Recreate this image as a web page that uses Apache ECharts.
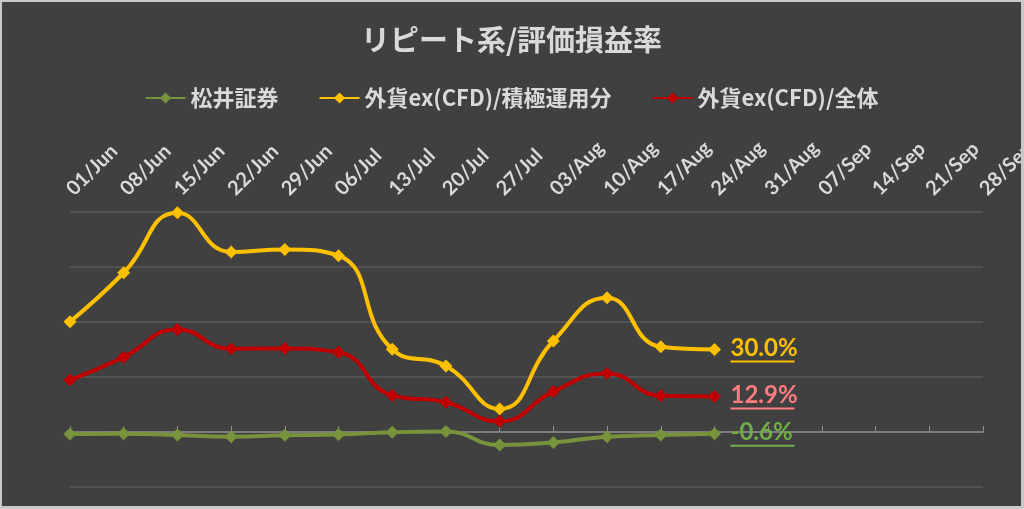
<!DOCTYPE html>
<html>
<head>
<meta charset="utf-8">
<script src="https://cdn.jsdelivr.net/npm/echarts@6/dist/echarts.min.js"></script>
<style>
  html, body { margin: 0; padding: 0; background: #C8C8C8; width: 1024px; height: 509px; overflow: hidden; }
  #chart { position: absolute; left: 2px; top: 2px; width: 1019px; height: 504px; background: #404040; }
</style>
</head>
<body>
<div id="chart"></div>
<script>
const categories = ['01/Jun','08/Jun','15/Jun','22/Jun','29/Jun','06/Jul','13/Jul','20/Jul','27/Jul','03/Aug','10/Aug','17/Aug','24/Aug','31/Aug','07/Sep','14/Sep','21/Sep','28/Sep'];
const seriesNames = ['松井証券', '外貨ex(CFD)/積極運用分', '外貨ex(CFD)/全体'];
const matsui = [-0.7, -0.6, -1.1, -1.7, -1.2, -0.9, -0.1, 0.2, -4.7, -3.8, -1.7, -1.1, -0.6];
const gaikaActive = [40.1, 57.9, 79.7, 65.5, 66.4, 64.1, 30.1, 24.0, 8.4, 33.1, 48.8, 31.0, 30.0];
const gaikaTotal = [18.9, 27.2, 37.3, 30.3, 30.4, 29.0, 13.3, 10.8, 3.9, 14.7, 21.3, 13.2, 12.9];
const yMin = -20, yMax = 80, yStep = 20;

const lineColors = ['#77933C', '#FFC000', '#C00000'];
const labelColors = ['#70AD47', '#FFC000', '#FF7C80'];
const seriesData = [matsui, gaikaActive, gaikaTotal];

const chart = echarts.init(document.getElementById('chart'));

function makeSeries(i) {
  return {
    name: seriesNames[i],
    type: 'line',
    xAxisIndex: 0,
    data: seriesData[i],
    smooth: true,
    symbol: 'diamond',
    symbolSize: 13,
    color: lineColors[i],
    lineStyle: { width: 4, color: lineColors[i] },
    itemStyle: { color: lineColors[i] },
    endLabel: {
      show: true,
      distance: 16,
      formatter: p => '{v|' + Number(p.value).toFixed(1) + '%}\n{u| }',
      rich: {
        v: { fontSize: 24, fontWeight: 'bold', fontFamily: 'Lato', color: labelColors[i], lineHeight: 24 },
        u: { height: 2, width: 64, lineHeight: 2, fontSize: 1, backgroundColor: labelColors[i] }
      }
    }
  };
}

chart.setOption({
  animation: false,
  backgroundColor: '#404040',
  title: {
    text: 'リピート系/評価損益率',
    left: 'center',
    top: 18,
    textStyle: { color: '#D9D9D9', fontSize: 29, fontWeight: 'bold', fontFamily: 'Noto Sans CJK JP' }
  },
  legend: {
    data: seriesNames,
    top: 80,
    left: 'center',
    itemWidth: 40,
    itemHeight: 14,
    itemGap: 40,
    textStyle: { color: '#D9D9D9', fontSize: 22, fontWeight: 'bold', fontFamily: 'Noto Sans CJK JP' }
  },
  grid: { left: 68, right: 38, top: 210, bottom: 19, containLabel: false, outerBoundsMode: 'none' },
  xAxis: [
    {
      type: 'category',
      data: categories,
      position: 'top',
      boundaryGap: false,
      axisLine: { show: false, onZero: false },
      axisTick: { show: false },
      axisLabel: { interval: 0, rotate: -45, margin: 20, color: '#D9D9D9', fontSize: 20, fontWeight: 'bold', fontFamily: 'Lato' },
      splitLine: { show: false }
    },
    {
      type: 'category',
      data: categories,
      position: 'bottom',
      boundaryGap: false,
      axisLine: { show: true, onZero: true, lineStyle: { color: '#8C8C8C', width: 1.5 } },
      axisTick: { show: true, inside: true, length: 6, interval: 0, lineStyle: { color: '#8C8C8C' } },
      axisLabel: { show: false },
      splitLine: { show: false }
    }
  ],
  yAxis: {
    type: 'value',
    min: yMin,
    max: yMax,
    interval: yStep,
    axisLine: { show: false },
    axisTick: { show: false },
    axisLabel: { show: false },
    splitLine: { show: true, lineStyle: { color: '#595959', width: 1.5 } }
  },
  series: [makeSeries(0), makeSeries(1), makeSeries(2)]
});
</script>
</body>
</html>
